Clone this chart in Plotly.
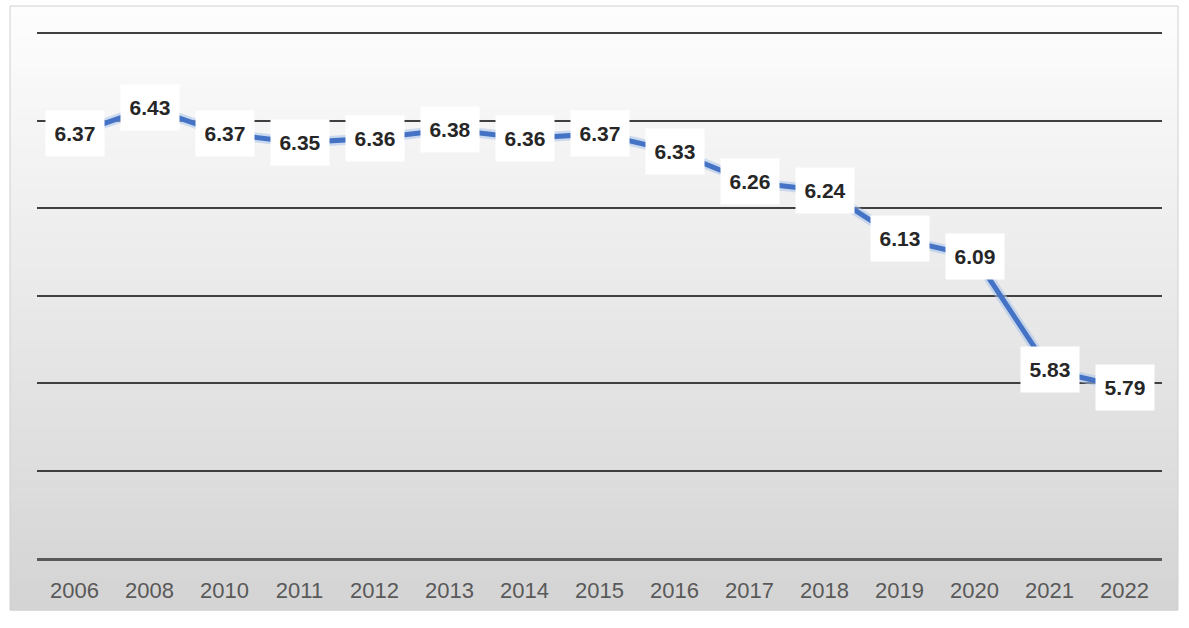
import plotly.graph_objects as go

years = ["2006", "2008", "2010", "2011", "2012", "2013", "2014", "2015",
         "2016", "2017", "2018", "2019", "2020", "2021", "2022"]
values = [6.37, 6.43, 6.37, 6.35, 6.36, 6.38, 6.36, 6.37,
          6.33, 6.26, 6.24, 6.13, 6.09, 5.83, 5.79]
y_ticks = [5.4, 5.6, 5.8, 6.0, 6.2, 6.4, 6.6]

W, H = 1189, 628
ML, MR, MT, MB = 37, 27, 32, 70
PW, PH = W - ML - MR, H - MT - MB

def px_to_paper_x(px):
    return (px - ML) / PW

def px_to_paper_y(py):
    return (H - MB - py) / PH

fig = go.Figure()

# soft halo under the line
fig.add_trace(go.Scatter(x=years, y=values, mode="lines",
                         line=dict(color="rgba(170,195,235,0.55)", width=10),
                         hoverinfo="skip", showlegend=False))
fig.add_trace(go.Scatter(x=years, y=values, mode="lines",
                         line=dict(color="#4472C4", width=5),
                         showlegend=False))

# data labels (category index used as x position)
for i, v in enumerate(values):
    fig.add_annotation(x=i, y=v, text=f"<b>{v:.2f}</b>", showarrow=False,
                       xref="x", yref="y", bgcolor="white",
                       width=56, height=43, borderpad=1,
                       font=dict(family="Liberation Sans", size=21, color="#262626"))

# background gradient (chart frame)
fx0, fx1, fy0, fy1 = 10, 1178, 6, 610
n = 60
top = (253, 253, 253)
bot = (212, 212, 212)
shapes = []
for i in range(n):
    t = i / (n - 1)
    c = tuple(int(round(top[k] + (bot[k] - top[k]) * t)) for k in range(3))
    y0p = fy0 + (fy1 - fy0) * i / n
    y1p = fy0 + (fy1 - fy0) * (i + 1) / n + 0.6
    shapes.append(dict(type="rect", xref="paper", yref="paper", layer="below",
                       x0=px_to_paper_x(fx0), x1=px_to_paper_x(fx1),
                       y0=px_to_paper_y(y1p), y1=px_to_paper_y(y0p),
                       fillcolor=f"rgb{c}", line=dict(width=0)))
shapes.append(dict(type="rect", xref="paper", yref="paper", layer="below",
                   x0=px_to_paper_x(fx0), x1=px_to_paper_x(fx1),
                   y0=px_to_paper_y(fy1), y1=px_to_paper_y(fy0),
                   fillcolor="rgba(0,0,0,0)", line=dict(color="#d0d0d0", width=1)))

fig.update_layout(
    width=W, height=H,
    margin=dict(l=ML, r=MR, t=MT, b=MB),
    paper_bgcolor="white",
    plot_bgcolor="rgba(0,0,0,0)",
    shapes=shapes,
    xaxis=dict(type="category", range=[-0.5, len(years) - 0.5],
               showgrid=False, zeroline=False,
               showline=True, linecolor="#595959", linewidth=3,
               ticks="", ticklabelstandoff=11,
               tickfont=dict(family="Liberation Sans", size=22, color="#595959")),
    yaxis=dict(range=[5.4, 6.603], tickvals=y_ticks, showticklabels=False,
               showgrid=True, gridcolor="#404040", gridwidth=2,
               zeroline=False, showline=False, ticks=""),
)

fig.write_html("out.html", config={"displayModeBar": False},
               post_script="document.body.style.margin='0';document.body.style.padding='0';")
